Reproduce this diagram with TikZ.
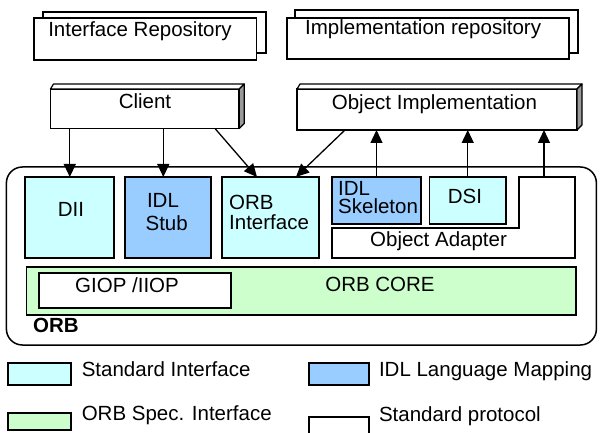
\documentclass[tikz,border=0pt]{standalone}
\usepackage{fontspec}
\setmainfont{Liberation Sans}
\usetikzlibrary{arrows.meta,calc}
\definecolor{stdif}{HTML}{CCFFFF}
\definecolor{idlmap}{HTML}{99CCFF}
\definecolor{orbspec}{HTML}{CCFFCC}
\definecolor{sideface}{HTML}{9A9A9A}
\begin{document}
\begin{tikzpicture}[x=1pt,y=-1pt,
  box/.style={draw, line width=1.8pt, inner sep=0pt, outer sep=0pt, anchor=north west},
  face/.style={draw, line width=1.2pt, line join=round},
  lbl/.style={font=\fontsize{20.5}{22}\selectfont, inner sep=0pt},
  arr/.style={line width=1.3pt, -{Triangle[length=13pt,width=12pt]}}]
\clip (0,0) rectangle (606,433);
\fill[white] (0,0) rectangle (606,433);

% repositories (stacked pages)
\node[box, fill=white, minimum width=223.3pt, minimum height=41pt] (irback) at (42.7,12) {};
\node[box, fill=white, minimum width=222.6pt, minimum height=42pt] (ir) at (33.8,18) {};
\node[lbl, anchor=base] (irtxt) at (140,36.7) {Interface Repository};
\node[box, fill=white, minimum width=283pt, minimum height=43pt] (imback) at (295,10) {};
\node[box, fill=white, minimum width=282pt, minimum height=41pt] (im) at (287,18) {};
\node[lbl, anchor=base west] (imtxt) at (305,35) {Implementation repository};

% client and object implementation (raised boxes)
\node[box, fill=white, minimum width=188.8pt, minimum height=39.5pt] (client) at (50.5,89) {};
\draw[face, fill=white] (client.north west) -- ++(3,-5) -- ($(client.north east)+(5,-5)$) -- (client.north east) -- cycle;
\draw[face, fill=sideface] (client.north east) -- ($(client.north east)+(5,-5)$) -- ($(client.south east)+(5,-5)$) -- (client.south east) -- cycle;
\node[lbl, anchor=base] (cltxt) at (145,108.3) {Client};

\node[box, fill=white, minimum width=280pt, minimum height=41pt] (objimpl) at (297,89) {};
\draw[face, fill=white] (objimpl.north west) -- ++(3,-5) -- ($(objimpl.north east)+(5,-5)$) -- (objimpl.north east) -- cycle;
\draw[face, fill=sideface] (objimpl.north east) -- ($(objimpl.north east)+(5,-5)$) -- ($(objimpl.south east)+(5,-5)$) -- (objimpl.south east) -- cycle;
\node[lbl, anchor=base west] (oitxt) at (331.7,110) {Object Implementation};

% ORB frame
\node[draw, line width=1.5pt, rounded corners=16pt, inner sep=0pt, outer sep=0pt, anchor=north west,
      minimum width=590pt, minimum height=178pt] (orb) at (6.4,167) {};
\node[lbl, anchor=base west, font=\fontsize{20.5}{22}\selectfont\bfseries] (orbtxt) at (33,333) {ORB};

% interfaces inside the ORB
\node[box, fill=stdif, minimum width=89pt, minimum height=81pt] (dii) at (25.3,177) {};
\node[lbl, anchor=base] (diitxt) at (71,216.7) {DII};
\node[box, fill=idlmap, minimum width=86pt, minimum height=81pt] (stub) at (125,177) {};
\node[lbl, anchor=base] (stubtxt1) at (163,208) {IDL};
\node[lbl, anchor=base] (stubtxt2) at (166.7,230.5) {Stub};
\node[box, fill=stdif, minimum width=97.6pt, minimum height=81pt] (orbi) at (221.7,177) {};
\node[lbl, anchor=base west] (orbitxt1) at (229,210) {ORB};
\node[lbl, anchor=base west] (orbitxt2) at (229,230) {Interface};

% object adapter with skeleton and DSI
\coordinate (oatop) at (544,177);
\draw[line width=1.8pt, fill=white] (332,228) -- (518.6,228) -- (518.6,177) -- (575,177) -- (575,258) -- (332,258) -- cycle;
\node[lbl, anchor=base west] (oatxt) at (370,246.7) {Object Adapter};
\node[box, fill=idlmap, minimum width=89pt, minimum height=47pt] (skel) at (332,177) {};
\node[lbl, anchor=base west] (skeltxt1) at (338,195.5) {IDL};
\node[lbl, anchor=base west] (skeltxt2) at (338,214) {Skeleton};
\node[box, fill=stdif, minimum width=76.5pt, minimum height=47pt] (dsi) at (429.5,177) {};
\node[lbl, anchor=base] (dsitxt) at (465,203.3) {DSI};

% ORB core
\node[box, fill=orbspec, minimum width=549.6pt, minimum height=48pt] (core) at (26.4,267) {};
\node[lbl, anchor=base] (coretxt) at (380,291.7) {ORB CORE};
\node[box, fill=white, minimum width=192pt, minimum height=35pt] (giop) at (38.9,273) {};
\node[lbl, anchor=base] (gioptxt) at (127,292.7) {GIOP /IIOP};

% connectors
\draw[arr] (dii.north |- client.south) -- (dii.north);
\draw[arr] ($(stub.north |- client.south)+(-4.7,0)$) -- ($(stub.north)+(-4.7,0)$);
\draw[arr] ($(client.south east)+(-24.3,0)$) -- ($(orbi.north)+(-13.5,0)$);
\draw[arr] ($(objimpl.south west)+(48,0)$) -- ($(orbi.north)+(25.5,0)$);
\draw[arr] (skel.north) -- (skel.north |- objimpl.south);
\draw[arr] (dsi.north) -- (dsi.north |- objimpl.south);
\draw[arr] (oatop) -- (oatop |- objimpl.south);

% legend
\node[box, fill=stdif, minimum width=63.2pt, minimum height=22pt] (leg1) at (7.8,363) {};
\node[lbl, anchor=base west] (leg1txt) at (81.6,376.7) {Standard Interface};
\node[box, fill=idlmap, minimum width=60pt, minimum height=22pt] (leg2) at (309,363) {};
\node[lbl, anchor=base west] (leg2txt) at (378.8,376.7) {IDL Language Mapping};
\node[box, fill=orbspec, minimum width=63.2pt, minimum height=17pt] (leg3) at (7.8,413) {};
\node[lbl, anchor=base west] (leg3txt) at (81.6,420) {ORB Spec. Interface};
\node[box, fill=white, minimum width=60pt, minimum height=25pt] (leg4) at (309,417.3) {};
\node[lbl, anchor=base west] (leg4txt) at (378.8,421.7) {Standard protocol};
\end{tikzpicture}
\end{document}
